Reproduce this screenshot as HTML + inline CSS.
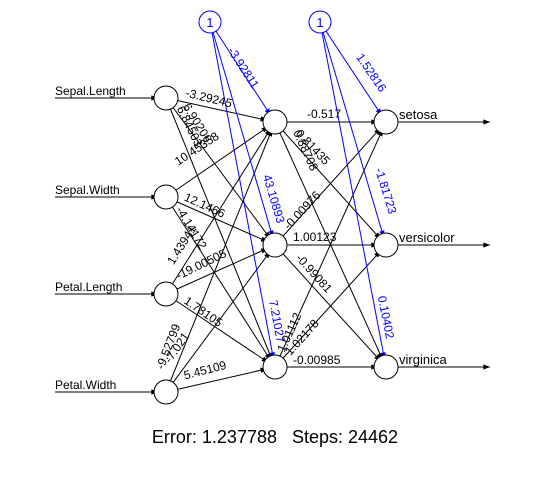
<!DOCTYPE html>
<html><head><meta charset="utf-8"><style>
html,body{margin:0;padding:0;background:#fff;}
svg{display:block;font-family:"Liberation Sans",Arial,sans-serif;}
.w{font-size:12px;fill:#000;text-anchor:middle;}
.b{font-size:12px;fill:#0000ff;text-anchor:middle;}
</style></head><body>
<svg width="551" height="491" viewBox="0 0 551 491" xmlns="http://www.w3.org/2000/svg">
<defs>
<marker id="a" markerUnits="userSpaceOnUse" markerWidth="40" markerHeight="20" refX="22" refY="0" orient="auto" viewBox="-30 -10 60 20" overflow="visible"><path d="M0,-4 L10,0 L0,4 z" fill="#000"/></marker>
<marker id="ab" markerUnits="userSpaceOnUse" markerWidth="40" markerHeight="20" refX="22" refY="0" orient="auto" viewBox="-30 -10 60 20" overflow="visible"><path d="M0,-4 L10,0 L0,4 z" fill="#00f"/></marker>
<marker id="ao" markerUnits="userSpaceOnUse" markerWidth="40" markerHeight="20" refX="10" refY="0" orient="auto" viewBox="-30 -10 60 20" overflow="visible"><path d="M0,-4 L10,0 L0,4 z" fill="#000"/></marker>
</defs>
<g stroke="#000" stroke-width="1" fill="none">
<line x1="55" y1="98" x2="166" y2="98" marker-end="url(#a)"/>
<line x1="55" y1="197" x2="166" y2="197" marker-end="url(#a)"/>
<line x1="55" y1="294" x2="166" y2="294" marker-end="url(#a)"/>
<line x1="55" y1="392" x2="166" y2="392" marker-end="url(#a)"/>
<line x1="166" y1="98" x2="275" y2="122" marker-end="url(#a)"/>
<line x1="166" y1="98" x2="275" y2="245" marker-end="url(#a)"/>
<line x1="166" y1="98" x2="275" y2="367" marker-end="url(#a)"/>
<line x1="166" y1="197" x2="275" y2="122" marker-end="url(#a)"/>
<line x1="166" y1="197" x2="275" y2="245" marker-end="url(#a)"/>
<line x1="166" y1="197" x2="275" y2="367" marker-end="url(#a)"/>
<line x1="166" y1="294" x2="275" y2="122" marker-end="url(#a)"/>
<line x1="166" y1="294" x2="275" y2="245" marker-end="url(#a)"/>
<line x1="166" y1="294" x2="275" y2="367" marker-end="url(#a)"/>
<line x1="166" y1="392" x2="275" y2="122" marker-end="url(#a)"/>
<line x1="166" y1="392" x2="275" y2="245" marker-end="url(#a)"/>
<line x1="166" y1="392" x2="275" y2="367" marker-end="url(#a)"/>
<line x1="275" y1="122" x2="386" y2="122" marker-end="url(#a)"/>
<line x1="275" y1="122" x2="386" y2="245" marker-end="url(#a)"/>
<line x1="275" y1="122" x2="386" y2="367" marker-end="url(#a)"/>
<line x1="275" y1="245" x2="386" y2="122" marker-end="url(#a)"/>
<line x1="275" y1="245" x2="386" y2="245" marker-end="url(#a)"/>
<line x1="275" y1="245" x2="386" y2="367" marker-end="url(#a)"/>
<line x1="275" y1="367" x2="386" y2="122" marker-end="url(#a)"/>
<line x1="275" y1="367" x2="386" y2="245" marker-end="url(#a)"/>
<line x1="275" y1="367" x2="386" y2="367" marker-end="url(#a)"/>
<line x1="398" y1="122" x2="490" y2="122" marker-end="url(#ao)"/>
<line x1="398" y1="245" x2="490" y2="245" marker-end="url(#ao)"/>
<line x1="398" y1="367" x2="490" y2="367" marker-end="url(#ao)"/>
</g>
<g stroke="#00f" stroke-width="1" fill="none">
<line x1="210" y1="22" x2="275" y2="122" marker-end="url(#ab)"/>
<line x1="210" y1="22" x2="275" y2="245" marker-end="url(#ab)"/>
<line x1="210" y1="22" x2="275" y2="367" marker-end="url(#ab)"/>
<line x1="320" y1="22" x2="386" y2="122" marker-end="url(#ab)"/>
<line x1="320" y1="22" x2="386" y2="245" marker-end="url(#ab)"/>
<line x1="320" y1="22" x2="386" y2="367" marker-end="url(#ab)"/>
</g>
<g stroke="#000" fill="#fff">
<circle cx="166" cy="98" r="12"/><circle cx="166" cy="197" r="12"/>
<circle cx="166" cy="294" r="12"/><circle cx="166" cy="392" r="12"/>
<circle cx="275" cy="122" r="12"/><circle cx="275" cy="245" r="12"/><circle cx="275" cy="367" r="12"/>
<circle cx="386" cy="122" r="12"/><circle cx="386" cy="245" r="12"/><circle cx="386" cy="367" r="12"/>
</g>
<g stroke="#00f" fill="#fff"><circle cx="210" cy="22" r="11"/><circle cx="320" cy="22" r="11"/></g>
<g font-size="13" fill="#00f" text-anchor="middle"><text x="210" y="27">1</text><text x="320" y="27">1</text></g>
<g font-size="12" fill="#000">
<text x="55" y="95">Sepal.Length</text><text x="55" y="194">Sepal.Width</text>
<text x="55" y="291">Petal.Length</text><text x="55" y="389">Petal.Width</text>
</g>
<g font-size="13" fill="#000">
<text x="399" y="119">setosa</text><text x="399" y="242">versicolor</text><text x="399" y="364">virginica</text>
</g>
<text class="w" transform="translate(208,102) rotate(13.6)">-3.29245</text>
<text class="w" transform="translate(194,125) rotate(58)">6.90206</text>
<text class="w" transform="translate(186,128) rotate(64)">6.84503</text>
<text class="w" transform="translate(199,152) rotate(-33.6)">10.45358</text>
<text class="w" transform="translate(203,209) rotate(24.6)">12.1466</text>
<text class="w" transform="translate(188,230) rotate(58.6)">-4.14172</text>
<text class="w" transform="translate(185,247) rotate(-58)">1.43941</text>
<text class="w" transform="translate(203,268) rotate(-26)">-19.00505</text>
<text class="w" transform="translate(201,315) rotate(34.7)">1.78105</text>
<text class="w" transform="translate(172,348) rotate(-68.7)">-9.52799</text>
<text class="w" transform="translate(180,350) rotate(-55)">-7.021</text>
<text class="w" transform="translate(206,374) rotate(-14.7)">5.45109</text>
<text class="b" transform="translate(240,70) rotate(56.7)">-3.92811</text>
<text class="b" transform="translate(270,200) rotate(73.5)">43.10893</text>
<text class="b" transform="translate(273,322) rotate(79.3)">7.21027</text>
<text class="w" x="307" y="118" style="text-anchor:start">-0.517</text>
<text class="w" transform="translate(310,150) rotate(46.7)">0.81435</text>
<text class="w" transform="translate(302,152) rotate(65.3)">0.88708</text>
<text class="w" transform="translate(305,213) rotate(-46.7)">-0.00976</text>
<text class="w" x="293" y="241" style="text-anchor:start">1.00123</text>
<text class="w" transform="translate(311,276) rotate(48.1)">-0.99081</text>
<text class="w" transform="translate(293,334) rotate(-65.3)">1.01112</text>
<text class="w" transform="translate(305,340) rotate(-48.1)">1.02178</text>
<text class="w" x="293" y="364" style="text-anchor:start">-0.00985</text>
<text class="b" transform="translate(368,75) rotate(55.5)">1.52816</text>
<text class="b" transform="translate(382,192) rotate(72.7)">-1.81723</text>
<text class="b" transform="translate(382,318) rotate(78.8)">0.10402</text>
<text x="275" y="443" font-size="18" fill="#000" text-anchor="middle" xml:space="preserve">Error: 1.237788   Steps: 24462</text>
</svg>
</body></html>
